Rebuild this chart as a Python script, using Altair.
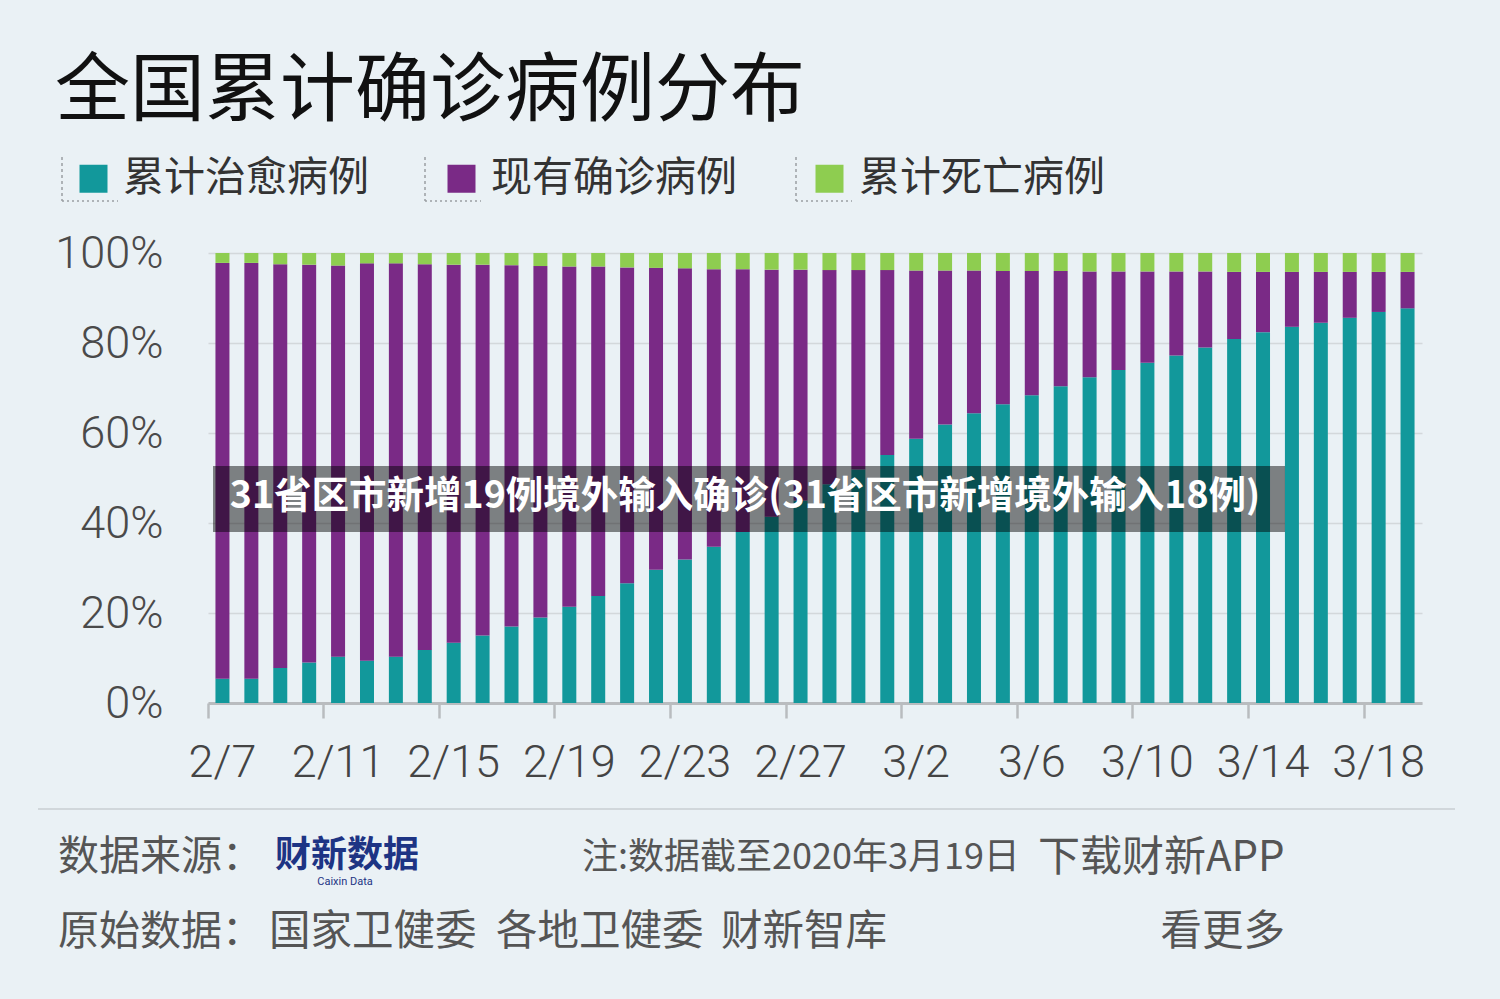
import altair as alt
import pandas as pd

# ---------------- data ----------------
dates = [f"2/{d}" for d in range(7, 30)] + [f"3/{d}" for d in range(1, 20)]

cured_pct = [5.4, 5.4, 7.8, 9.0, 10.3, 9.4, 10.3, 11.8, 13.4, 15.0,
             17.0, 19.0, 21.4, 23.8, 26.6, 29.6, 31.9, 34.7, 38.0, 41.4,
             45.0, 48.6, 51.9, 55.1, 58.7, 61.9, 64.4, 66.4, 68.4, 70.4,
             72.4, 74.0, 75.6, 77.2, 79.0, 80.9, 82.4, 83.6, 84.5, 85.6,
             86.9, 87.7]

death_pct = [2.2, 2.2, 2.5, 2.6, 2.8, 2.3, 2.3, 2.5, 2.6, 2.6,
             2.7, 2.9, 3.0, 3.0, 3.2, 3.3, 3.4, 3.6, 3.6, 3.7,
             3.7, 3.8, 3.8, 3.8, 3.9, 3.9, 3.9, 4.0, 4.0, 4.0,
             4.1, 4.1, 4.1, 4.1, 4.1, 4.2, 4.2, 4.2, 4.2, 4.2,
             4.2, 4.2]

series = ["累计治愈病例", "现有确诊病例", "累计死亡病例"]
colors = ["#12989b", "#7a2a86", "#8ecd50"]

x_tick_labels = ["2/7", "2/11", "2/15", "2/19", "2/23", "2/27",
                 "3/2", "3/6", "3/10", "3/14", "3/18"]
y_tick_values = [0, 20, 40, 60, 80, 100]

title_text = "全国累计确诊病例分布"
banner_text = "31省区市新增19例境外输入确诊(31省区市新增境外输入18例)"
sources = ["国家卫健委", "各地卫健委", "财新智库"]

rows = []
for i, d in enumerate(dates):
    c = cured_pct[i]
    dd = death_pct[i]
    active = round(100 - c - dd, 2)
    for k, (s, v) in enumerate(zip(series, [c, active, dd])):
        rows.append({"date": d, "series": s, "pct": v, "ord": k})
df = pd.DataFrame(rows)

# ---------------- layout ----------------
W, H = 1214, 450
OX, OY = 208, 253
CJK = "Noto Sans CJK SC"
BG = "#eaf1f5"

bars = alt.Chart(df).mark_bar(size=14).encode(
    x=alt.X("date:O", sort=dates,
            scale=alt.Scale(paddingInner=0, paddingOuter=0),
            axis=alt.Axis(values=x_tick_labels, bandPosition=0, labelAngle=0,
                          title=None, grid=False,
                          domainColor="#b9bcbf", domainWidth=3,
                          tickColor="#b9bcbf", tickWidth=2.5, tickSize=15,
                          labelPadding=22, labelFontSize=45, labelColor="#444",
                          labelFont="Roboto", labelFontWeight=300,
                          labelFlush=False)),
    y=alt.Y("pct:Q", stack="zero",
            scale=alt.Scale(domain=[0, 100], nice=False),
            axis=alt.Axis(values=y_tick_values, labelExpr="datum.value + '%'",
                          title=None, domain=False, ticks=False,
                          grid=True, gridColor="#d3d8db", gridWidth=1.5,
                          labelPadding=45, labelFontSize=45, labelColor="#4a4a4a",
                          labelFont="Roboto", labelFontWeight=300)),
    color=alt.Color("series:N", sort=series,
                    scale=alt.Scale(domain=series, range=colors),
                    legend=alt.Legend(orient="none", legendX=73 - OX, legendY=158 - OY,
                                      direction="horizontal", title=None,
                                      symbolType="square", symbolSize=784,
                                      symbolStrokeWidth=0, symbolOpacity=1,
                                      labelFontSize=41, labelFont=CJK,
                                      labelColor="#333", labelOffset=9,
                                      labelLimit=500,
                                      columnPadding=72, padding=0)),
    order=alt.Order("ord:Q", sort="ascending"),
)


def one():
    return alt.Data(values=[{"k": 1}])


def txt(s, x, y, size, color="#555", weight="normal", align="left", font=CJK):
    return alt.Chart(alt.Data(values=[{"t": s}])).mark_text(
        x=x - OX, y=y - OY, align=align, baseline="middle",
        fontSize=size, color=color, fontWeight=weight, font=font
    ).encode(text="t:N")


layers = [bars]

# banner overlay
layers.append(alt.Chart(one()).mark_rect(color="black", opacity=0.47).encode(
    x=alt.value(213 - OX), x2=alt.value(1285 - OX),
    y=alt.value(466 - OY), y2=alt.value(532 - OY)))
layers.append(txt(banner_text, 745, 497, 37.5, color="white", weight="bold", align="center"))

# title
layers.append(txt(title_text, 55, 92, 75, color="#111"))

# legend brackets
for bx in [62, 425, 796]:
    layers.append(alt.Chart(one()).mark_rule(color="#9a9ea2", strokeWidth=1.5, strokeDash=[3, 3]).encode(
        x=alt.value(bx - OX), y=alt.value(157 - OY), y2=alt.value(201 - OY)))
    layers.append(alt.Chart(one()).mark_rule(color="#9a9ea2", strokeWidth=1.5, strokeDash=[2, 3]).encode(
        x=alt.value(bx - OX), x2=alt.value(bx + 56 - OX), y=alt.value(201 - OY)))

# separator
layers.append(alt.Chart(one()).mark_rule(color="#c9ced2", strokeWidth=1.5).encode(
    x=alt.value(38 - OX), x2=alt.value(1455 - OX), y=alt.value(809 - OY)))

# footer
layers.append(txt("数据来源：", 58, 858, 41))
layers.append(txt("财新数据", 347, 856, 36, color="#1d3484", weight="bold", align="center"))
layers.append(txt("Caixin Data", 345, 882, 11, color="#1d3484", align="center", font="Roboto"))
layers.append(txt("注:数据截至2020年3月19日", 582, 858, 36))
layers.append(txt("下载财新APP", 1038, 858, 42))
layers.append(txt("原始数据：", 58, 933, 41))
for s, sx in zip(sources, [269, 496, 721]):
    layers.append(txt(s, sx, 933, 41.5))
layers.append(txt("看更多", 1285, 933, 41.5, align="right"))

chart = alt.layer(*layers).properties(
    width=W, height=H,
    autosize=alt.AutoSizeParams(type="none"),
    padding={"left": OX, "top": OY, "right": 1500 - OX - W, "bottom": 999 - OY - H},
    background=BG,
).configure_view(strokeWidth=0)

chart.save("out.html", embed_options={"renderer": "svg", "actions": False})
